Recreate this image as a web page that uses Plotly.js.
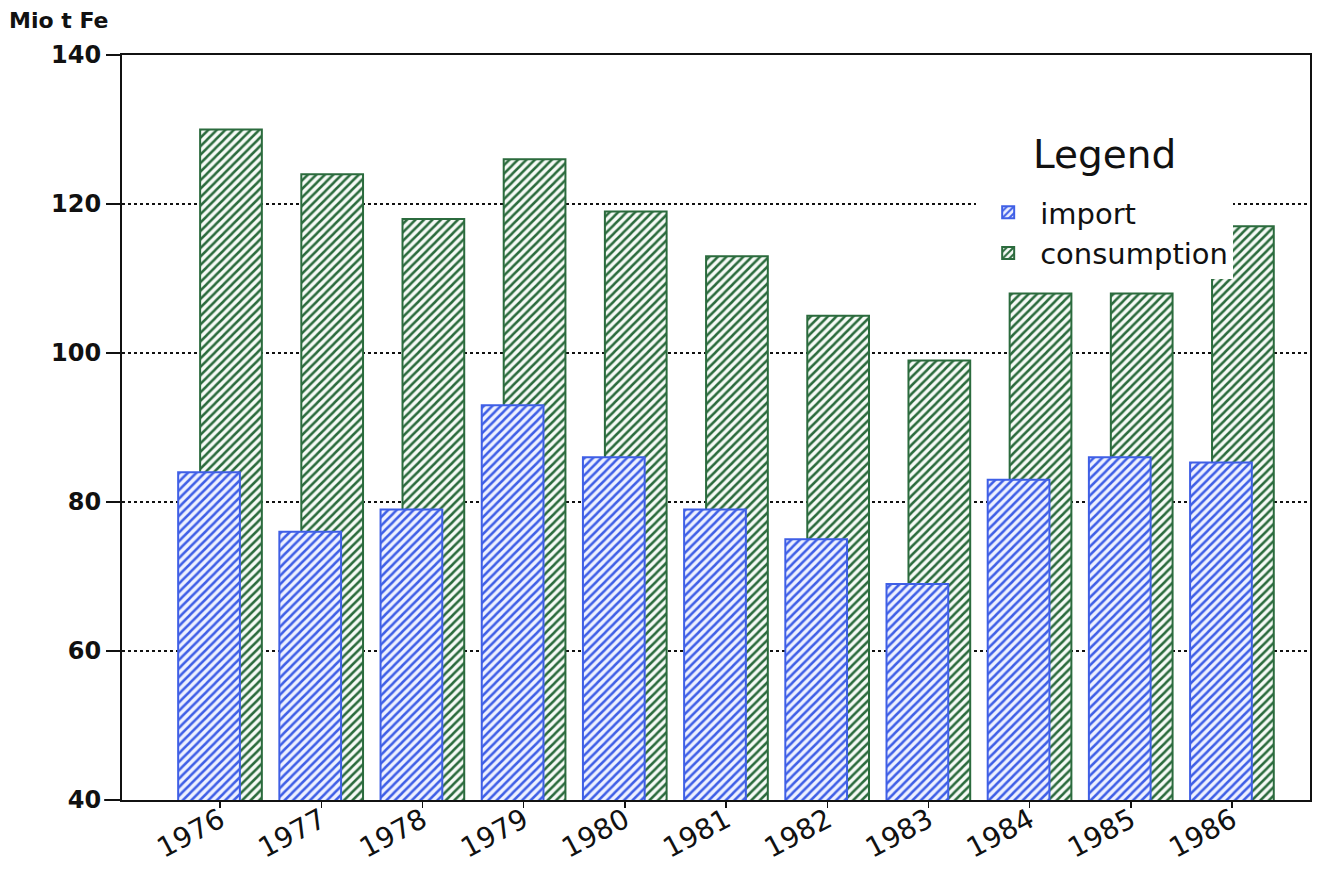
<!DOCTYPE html>
<html>
<head>
<meta charset="utf-8">
<script src="https://cdn.plot.ly/plotly-3.0.1.min.js"></script>
<style>html,body{margin:0;padding:0;background:#fff;}#chart{width:1318px;height:869px;}</style>
</head>
<body>
<div id="chart"></div>
<script>
const years = [1976, 1977, 1978, 1979, 1980, 1981, 1982, 1983, 1984, 1985, 1986];
const yearLabels = ["1976", "1977", "1978", "1979", "1980", "1981", "1982", "1983", "1984", "1985", "1986"];
const importValues = [84, 76, 79, 93, 86, 79, 75, 69, 83, 86, 85.3];
const consumptionValues = [130, 124, 118, 126, 119, 113, 105, 99, 108, 108, 117];
const yTicks = [40, 60, 80, 100, 120, 140];

const blue = '#3f5fe6';
const green = '#2b6b3d';

const consumption = {
  type: 'bar', name: 'consumption', x: years, y: consumptionValues,
  width: 0.61, offset: -0.198,
  marker: {
    color: '#f4f8f4',
    line: {color: green, width: 2},
    pattern: {shape: '/', fgcolor: green, bgcolor: '#f6faf6', size: 6, solidity: 0.42}
  },
  hoverinfo: 'x+y'
};
const imp = {
  type: 'bar', name: 'import', x: years, y: importValues,
  width: 0.61, offset: -0.415,
  marker: {
    color: '#eef1ff',
    line: {color: blue, width: 2},
    pattern: {shape: '/', fgcolor: blue, bgcolor: '#eef1ff', size: 6, solidity: 0.42}
  },
  hoverinfo: 'x+y'
};

const layout = {
  width: 1318, height: 869,
  margin: {l: 122, r: 8, t: 55, b: 69},
  paper_bgcolor: '#fff', plot_bgcolor: '#fff',
  barmode: 'overlay',
  font: {family: 'DejaVu Sans, sans-serif', color: '#111'},
  showlegend: true,
  legend: {
    x: 0.719, y: 0.823, xanchor: 'left', yanchor: 'top',
    bgcolor: '#fff', borderwidth: 0,
    traceorder: 'reversed',
    font: {size: 29, family: 'DejaVu Sans, sans-serif', color: '#111'},
    itemwidth: 54, tracegroupgap: 0
  },
  xaxis: {
    type: 'linear', range: [1975.03, 1986.77],
    tickvals: years, ticktext: yearLabels, tickangle: -28,
    ticks: 'outside', ticklen: 6, tickwidth: 1.5, tickcolor: '#111',
    ticklabelstandoff: -15,
    tickfont: {size: 28, family: 'DejaVu Sans, sans-serif', color: '#111'},
    showline: true, linecolor: '#111', linewidth: 2, mirror: true,
    showgrid: false, zeroline: false, fixedrange: true
  },
  yaxis: {
    range: [40, 140], tickvals: yTicks,
    ticks: 'outside', ticklen: 14, tickwidth: 2, tickcolor: '#111',
    tickfont: {size: 24, family: 'DejaVu Sans, sans-serif', color: '#111', weight: 'bold'},
    showline: true, linecolor: '#111', linewidth: 2, mirror: true,
    showgrid: true, gridcolor: '#111', gridwidth: 2, griddash: 'dot',
    zeroline: false, fixedrange: true
  },
  shapes: [
    {type: 'line', xref: 'paper', yref: 'paper', x0: -0.015, x1: 0, y0: 0, y1: 0, line: {color: '#111', width: 2}}
  ],
  annotations: [
    {text: 'Mio t Fe', xref: 'paper', yref: 'paper', x: -0.097, y: 1.066, xanchor: 'left', yanchor: 'top',
     showarrow: false, font: {size: 22, family: 'DejaVu Sans, sans-serif', color: '#111', weight: 'bold'}},
    {text: 'Legend', xref: 'paper', yref: 'paper', x: 0.8274, y: 0.866, xanchor: 'center', yanchor: 'middle',
     showarrow: false, font: {size: 39, family: 'DejaVu Sans, sans-serif', color: '#111'}}
  ]
};

Plotly.newPlot('chart', [consumption, imp], layout, {displayModeBar: false, staticPlot: true});
</script>
</body>
</html>
